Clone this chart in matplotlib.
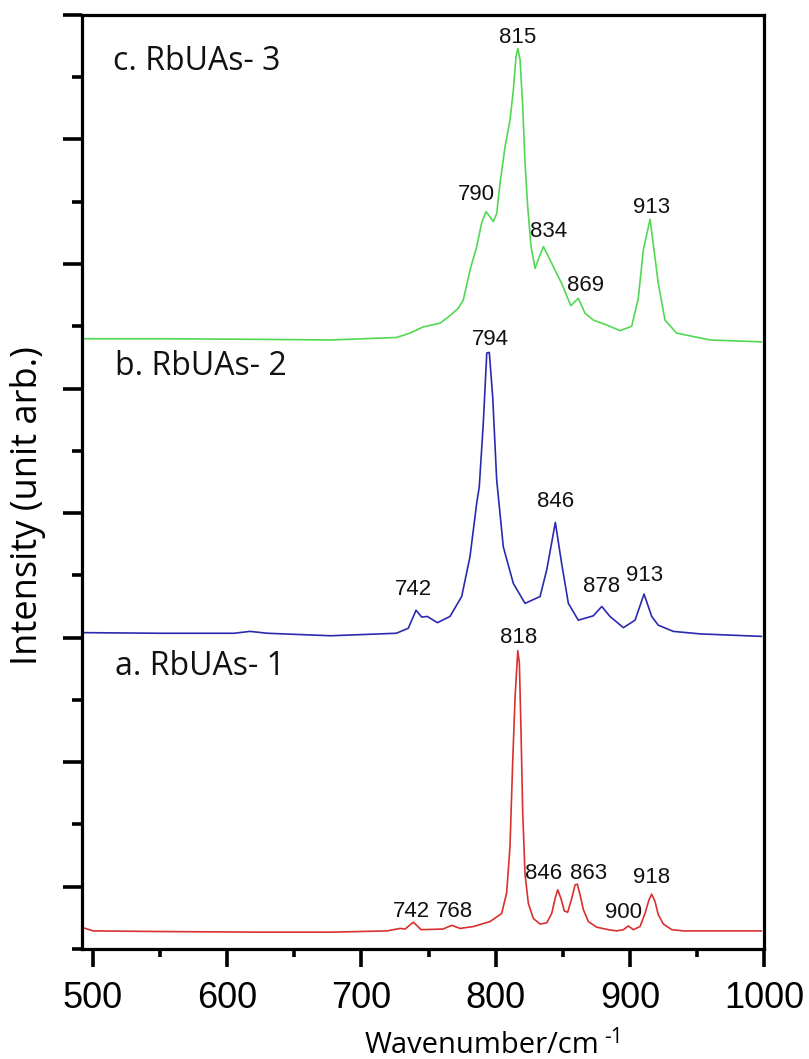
import matplotlib
matplotlib.use('Agg')
import matplotlib.pyplot as plt
from matplotlib.ticker import MultipleLocator

# traced spectra (wavenumber / cm-1, stacked intensity in arbitrary units)
wn_a = [492.8, 500, 550, 624, 677, 719, 728.8, 732.5, 738.7, 744.5, 760.8, 767.3,
        773.5, 783.4, 795.8, 804.5, 808.2, 810.7, 812.7, 814.5, 816.5, 817.7, 818.9,
        820.2, 821.9, 824.4, 828.1, 833.1, 838.1, 841.8, 844.3, 846.3, 848.7, 851.2,
        853.7, 856.7, 859.2, 860.9, 862.9, 865.4, 869.1, 875.3, 884.0, 890.2, 895.2,
        898.9, 902.6, 907.6, 911.3, 914.3, 916.3, 918.8, 921.2, 925.0, 931.3, 939.9,
        977, 998]
int_a = [0.34, 0.29, 0.28, 0.27, 0.27, 0.29, 0.33, 0.32, 0.43, 0.31, 0.32, 0.38,
         0.33, 0.36, 0.44, 0.57, 0.90, 1.64, 2.99, 4.05, 4.79, 4.59, 3.52,
         2.18, 1.20, 0.73, 0.49, 0.40, 0.42, 0.57, 0.81, 0.95, 0.81, 0.61,
         0.59, 0.81, 1.03, 1.04, 0.87, 0.63, 0.44, 0.35, 0.31, 0.29, 0.31,
         0.37, 0.31, 0.36, 0.57, 0.79, 0.88, 0.76, 0.55, 0.40, 0.31, 0.29,
         0.29, 0.29]

wn_b = [492.8, 550, 605, 617, 630, 677, 726, 734.9, 740.7, 744.9, 749.1, 756.6,
        766.0, 774.7, 780.9, 785.9, 787.8, 790.8, 793.4, 795.3, 797.8, 800.8, 805.7,
        813.2, 821.9, 833.1, 838.1, 844.5, 849.2, 854.2, 861.6, 872.8, 879.1, 885.2,
        895.2, 903.9, 910.6, 916.3, 921.2, 932.4, 952.3, 998]
int_b = [5.08, 5.07, 5.07, 5.10, 5.07, 5.03, 5.07, 5.15, 5.44, 5.33, 5.34, 5.24,
         5.34, 5.66, 6.30, 7.16, 7.42, 8.44, 9.57, 9.58, 8.87, 7.53, 6.46,
         5.87, 5.55, 5.66, 6.09, 6.85, 6.19, 5.55, 5.28, 5.35, 5.50, 5.34,
         5.16, 5.28, 5.70, 5.34, 5.20, 5.10, 5.06, 5.02]

wn_c = [492.8, 550, 624, 677, 726, 736.2, 746.1, 758.6, 764.8, 772.2, 775.9, 780.9,
        785.9, 789.6, 792.8, 795.8, 798.3, 800.8, 803.3, 807.0, 810.7, 813.2, 815.2,
        816.5, 818.2, 820.2, 821.9, 823.9, 826.4, 829.4, 831.8, 835.6, 839.3, 844.3,
        849.2, 856.0, 861.6, 866.6, 872.8, 882.8, 892.7, 901.4, 906.3, 910.1, 915.1,
        921.2, 926.2, 934.9, 959.8, 998]
int_c = [9.80, 9.80, 9.79, 9.78, 9.82, 9.89, 9.99, 10.05, 10.15, 10.29, 10.42, 10.90,
         11.28, 11.66, 11.84, 11.76, 11.68, 11.81, 12.30, 12.88, 13.31, 13.79, 14.33,
         14.46, 14.28, 13.53, 12.62, 11.92, 11.28, 10.93, 11.07, 11.28, 11.12, 10.90,
         10.69, 10.33, 10.45, 10.21, 10.10, 10.02, 9.93, 10.00, 10.45, 11.23, 11.72,
         10.69, 10.10, 9.89, 9.78, 9.75]

# peak labels: (text, x, y)
peaks_a = [('818', 816.9, 5.01), ('742', 737.5, 0.60), ('768', 769.0, 0.60),
           ('846', 835.5, 1.22), ('863', 869.1, 1.22), ('900', 895.2, 0.58),
           ('918', 916.3, 1.15)]
peaks_b = [('794', 795.8, 9.79), ('742', 738.7, 5.77), ('846', 844.3, 7.18),
           ('878', 879.1, 5.82), ('913', 911.3, 5.99)]
peaks_c = [('815', 816.5, 14.64), ('790', 785.9, 12.11), ('834', 839.3, 11.52),
           ('869', 866.6, 10.66), ('913', 916.3, 11.91)]

names = ['a. RbUAs- 1', 'b. RbUAs- 2', 'c. RbUAs- 3']
name_pos = [(516.4, 4.40), (516.4, 9.22), (514.9, 14.12)]
colores = ['#d93030', '#2a2ab0', '#52d852']

fig = plt.figure(figsize=(8.09, 10.59), dpi=100)
ax = fig.add_axes([0.1014, 0.1039, 0.843, 0.882])

for xs, ys, c in zip((wn_a, wn_b, wn_c), (int_a, int_b, int_c), colores):
    ax.plot(xs, ys, color=c, lw=1.2, solid_joinstyle='round')

for grupo in (peaks_a, peaks_b, peaks_c):
    for txt, x, y in grupo:
        ax.text(x, y, txt, ha='center', va='center', fontsize=16,
                family='Liberation Sans', color='#111111')

for nombre, (x, y) in zip(names, name_pos):
    ax.text(x, y, nombre, ha='left', va='baseline', fontsize=23,
            family='Open Sans', color='#111111')

ax.set_xlim(491.8, 1000)
ax.set_ylim(0, 15)
ax.xaxis.set_major_locator(MultipleLocator(100))
ax.xaxis.set_minor_locator(MultipleLocator(50))
ax.yaxis.set_major_locator(MultipleLocator(2, offset=1))
ax.yaxis.set_minor_locator(MultipleLocator(1))
ax.set_yticklabels([])

ax.tick_params(axis='both', which='both', direction='out', width=2.6, color='black')
ax.tick_params(axis='x', which='major', length=13, pad=10, labelsize=26)
ax.tick_params(axis='x', which='minor', length=6)
ax.tick_params(axis='y', which='major', length=14)
ax.tick_params(axis='y', which='minor', length=7)
for lab in ax.get_xticklabels():
    lab.set_family('Liberation Sans')
for sp in ax.spines.values():
    sp.set_linewidth(2.3)

# x label with a small "-1" superscript placed right after the text
xl = fig.text(365 / 809, 1 - 1053 / 1059, 'Wavenumber/cm', ha='left', va='baseline',
              fontsize=21, family='Open Sans')
fig.canvas.draw()
bb = xl.get_window_extent()
fig.text((bb.x1 + 4) / 809, 1 - 1043 / 1059, '-1', ha='left', va='baseline',
         fontsize=15, family='Open Sans')

fig.text(28 / 809, 1 - 506 / 1059, 'Intensity (unit arb.)', rotation=90,
         ha='center', va='center', fontsize=26, family='Open Sans')

fig.savefig('out.png', dpi=100)
